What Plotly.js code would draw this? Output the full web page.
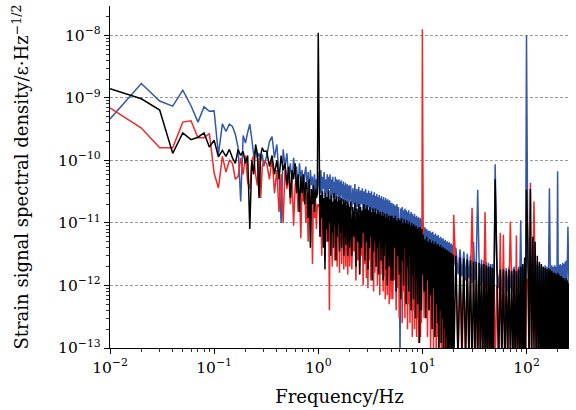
<!DOCTYPE html>
<html>
<head>
<meta charset="utf-8">
<script src="https://cdn.plot.ly/plotly-3.0.1.min.js"></script>
<style>html,body{margin:0;padding:0;background:#fff;}#chart{width:576px;height:410px;}</style>
</head>
<body>
<div id="chart"></div>
<script>
// Frequency samples (Hz)
const freq = [
  0.01,0.02,0.03,0.04,0.05,0.06,0.07,0.08,0.09,0.10,0.11,0.12,0.13,0.14,0.15,0.16,0.17,0.18,0.19,0.20,0.21,0.22,0.23,0.24,0.25,0.26,0.27,0.28,0.29,0.30,
  0.32,0.34,0.36,0.38,0.40,0.42,0.44,0.46,0.48,0.50,0.52,0.54,0.56,0.58,0.60,0.62,0.64,0.66,0.68,0.70,0.72,0.74,0.76,0.78,0.80,0.82,0.84,0.86,0.88,0.90,0.92,0.94,0.96,0.98,1.00,
  1.02,1.04,1.06,1.08,1.10,1.12,1.14,1.16,1.18,1.20,1.22,1.24,1.26,1.28,1.30,1.32,1.34,1.36,1.38,1.40,1.42,1.44,1.46,1.48,1.50,1.52,1.54,1.56,1.58,1.60,1.62,1.64,1.66,1.68,1.70,1.72,1.74,1.76,1.78,1.80,1.82,1.84,1.86,1.88,1.90,1.92,1.94,1.96,1.98,2.00,
  2.05,2.10,2.15,2.20,2.25,2.30,2.35,2.40,2.45,2.50,2.55,2.60,2.65,2.70,2.75,2.80,2.85,2.90,2.95,3.00,3.05,3.10,3.15,3.20,3.25,3.30,3.35,3.40,3.45,3.50,3.55,3.60,3.65,3.70,3.75,3.80,3.85,3.90,3.95,4.00,4.05,4.10,4.15,4.20,4.25,4.30,4.35,4.40,4.45,4.50,4.55,4.60,4.65,4.70,4.75,4.80,4.85,4.90,4.95,5.00,
  5.1,5.2,5.3,5.4,5.5,5.6,5.7,5.8,5.9,6.0,6.1,6.2,6.3,6.4,6.5,6.6,6.7,6.8,6.9,7.0,7.1,7.2,7.3,7.4,7.5,7.6,7.7,7.8,7.9,8.0,8.1,8.2,8.3,8.4,8.5,8.6,8.7,8.8,8.9,9.0,9.1,9.2,9.3,9.4,9.5,9.6,9.7,9.8,9.9,10.0,
  10.2,10.4,10.6,10.8,11.0,11.2,11.4,11.6,11.8,12.0,12.2,12.4,12.6,12.8,13.0,13.2,13.4,13.6,13.8,14.0,14.2,14.4,14.6,14.8,15.0,15.2,15.4,15.6,15.8,16.0,16.2,16.4,16.6,16.8,17.0,17.2,17.4,17.6,17.8,18.0,18.2,18.4,18.6,18.8,19.0,19.2,19.4,19.6,19.8,20.0,
  21,22,23,24,25,26,27,28,29,30,31,32,33,34,35,36,37,38,39,40,41,42,43,44,45,46,47,48,49,50,
  52,54,56,58,60,62,64,66,68,70,72,74,76,78,80,82,84,86,88,90,92,94,96,98,100,
  103,106,109,112,115,118,121,124,127,130,133,136,139,142,145,148,151,154,157,160,163,166,169,172,175,178,181,184,187,190,193,196,199,202,205,208,211,214,217,220,223,226,229,232,235,238,241,244,247,250,253,256
];

// Blue series
const blueASD = [
  4.6e-10,1.7e-9,8.9e-10,7.4e-10,1.33e-9,7.5e-10,4.1e-10,7.2e-10,6.1e-10,6.2e-10,1.24e-10,3.85e-10,2.9e-10,3.8e-10,3.5e-10,2.6e-10,1.6e-10,2.2e-11,2.5e-10,1.9e-10,2.8e-10,3.8e-10,2.2e-10,1.2e-10,1.5e-10,1.1e-10,1.3e-10,1.0e-10,1.25e-10,8e-11,
  1.2e-10,2.0e-10,2.4e-10,1.1e-10,1.8e-10,6e-11,1.0e-11,1.5e-10,8e-11,1.3e-10,5e-11,9e-11,4e-11,1.1e-10,6e-11,8e-11,3e-11,9e-11,5e-11,7e-11,2.5e-11,6e-11,8e-11,3.5e-11,6.5e-11,2.5e-11,7e-11,4e-11,5.5e-11,2.5e-11,6e-11,3.5e-11,5e-11,2.8e-11,4.5e-11,
  6.5e-11,3e-11,7e-11,2.5e-11,5.5e-11,3.5e-11,6.5e-11,2e-11,5e-11,3e-11,
  6e-11,2.5e-11,5.5e-11,3.5e-11,6e-11,2.2e-11,5e-11,2.8e-11,5.5e-11,2.5e-11,
  4.5e-11,3e-11,5.5e-11,2e-11,5e-11,2.8e-11,4.8e-11,2.2e-11,5e-11,2.6e-11,
  4.5e-11,2e-11,4.8e-11,2.8e-11,4.2e-11,2.2e-11,4.6e-11,2.5e-11,4e-11,1.8e-11,
  4.4e-11,2.4e-11,4e-11,2e-11,4.2e-11,2.5e-11,3.8e-11,1.8e-11,4e-11,2.2e-11,
  4e-11,1.6e-11,3.6e-11,2e-11,4.2e-11,1.4e-11,3.5e-11,1.8e-11,3.8e-11,1.5e-11,
  3.3e-11,2e-11,3.6e-11,1.3e-11,3.2e-11,1.7e-11,3.5e-11,1.4e-11,3e-11,1.8e-11,
  3.3e-11,1.2e-11,3e-11,1.6e-11,3.2e-11,1.3e-11,2.8e-11,1.5e-11,3.1e-11,1.1e-11,
  2.7e-11,1.6e-11,2.9e-11,1.2e-11,2.6e-11,1.4e-11,2.8e-11,1e-11,2.5e-11,1.5e-11,
  2.7e-11,1.1e-11,2.4e-11,1.3e-11,2.6e-11,1e-11,2.3e-11,1.4e-11,2.5e-11,9e-12,
  2.3e-11,1.2e-11,2.4e-11,1e-11,2.2e-11,1.3e-11,2.3e-11,9e-12,2.1e-11,1.1e-11,
  2.1e-11,9e-12,2e-11,1.1e-11,1.9e-11,8e-12,2e-11,1e-11,1.8e-11,9e-12,
  5e-14,1.7e-11,1e-11,1.8e-11,8e-12,1.6e-11,9e-12,1.7e-11,7e-12,1.6e-11,
  8.5e-12,1.5e-11,7e-12,1.6e-11,8e-12,1.4e-11,6.5e-12,1.5e-11,8e-12,1.4e-11,
  6e-12,1.3e-11,7.5e-12,1.4e-11,6e-12,1.25e-11,7e-12,1.3e-11,5.5e-12,1.2e-11,
  6.5e-12,1.25e-11,5.5e-12,1.15e-11,6e-12,1.2e-11,5e-12,1.1e-11,6e-12,1.05e-11,
  9.5e-12,4.5e-12,8.5e-12,3.5e-12,8e-12,4e-12,7.5e-12,3e-12,7.5e-12,3.5e-12,
  7e-12,3e-12,7.2e-12,3.5e-12,6.5e-12,2.6e-12,6.8e-12,3.2e-12,6.2e-12,2.8e-12,
  6.4e-12,3e-12,5.8e-12,2.5e-12,6e-12,2.8e-12,5.6e-12,2.4e-12,5.7e-12,2.7e-12,
  5.2e-12,2.3e-12,5.4e-12,2.6e-12,5e-12,2.2e-12,5.1e-12,2.5e-12,4.8e-12,2e-12,
  4.9e-12,2.3e-12,4.6e-12,2e-12,4.7e-12,2.2e-12,4.4e-12,1.9e-12,4.5e-12,2.1e-12,
  4e-12,1.5e-12,3.8e-12,1.4e-12,3.5e-12,1.2e-12,3.2e-12,1.3e-12,3e-12,1.1e-12,5e-12,1.2e-12,2.8e-12,3.4e-11,2.7e-12,1e-12,2.6e-12,1.1e-12,2.5e-12,9e-13,2.4e-12,1e-12,2.3e-12,9e-13,2.2e-12,1e-12,2.2e-12,8e-13,2.1e-12,8.7e-11,
  2e-12,9e-13,2.1e-12,8e-13,2e-12,9e-13,1.9e-12,8e-13,2e-12,9e-13,1.9e-12,8e-13,2e-12,9e-13,1.9e-12,8e-13,2e-12,9e-13,1.1e-11,9e-13,2.1e-12,8e-13,2.4e-12,1e-12,1e-8,
  2.5e-12,1e-12,3e-12,1.2e-12,3.2e-12,1e-12,2.8e-12,9e-13,2.4e-12,1e-12,2.2e-12,8e-13,2.1e-12,9e-13,2e-12,8e-13,2.1e-12,9e-13,2e-12,8e-13,2e-12,3.6e-11,2e-12,8e-13,2.1e-12,9e-13,2e-12,8e-13,2.1e-12,9e-13,2e-12,8e-13,6.7e-11,9e-13,2.1e-12,8e-13,2.2e-12,9e-13,2.1e-12,8e-13,2.3e-12,9e-13,2.2e-12,8e-13,2.4e-12,1e-12,2.5e-12,9e-13,2.6e-12,8.7e-12,2.5e-12,1e-12
];

// Red series
const redASD = [
  6.9e-10,3.3e-10,1.6e-10,1.6e-10,4.1e-10,4.3e-10,2.3e-10,2.3e-10,2.7e-10,6.3e-11,3.6e-11,1.16e-10,6.5e-11,1.0e-10,9e-11,5e-11,5.5e-11,1.1e-10,6e-11,1.2e-10,4.5e-11,3.5e-11,1.0e-10,1.2e-10,6e-11,4e-11,1.1e-10,2.5e-11,8e-11,1.0e-10,
  9e-11,5e-11,1.1e-10,3e-11,7e-11,1.5e-11,6e-11,1.0e-11,8e-11,3.5e-11,6e-11,2e-11,5e-11,9e-12,4e-11,5.5e-11,1.5e-11,3.5e-11,5.7e-12,4e-11,2.2e-11,4.5e-11,1.0e-11,3e-11,5e-12,3.5e-11,1.5e-11,2.8e-11,2.2e-12,3e-11,1.2e-11,2.5e-11,8e-12,2e-11,1.8e-11,
  2e-11,6e-12,1.6e-11,3e-12,1.8e-11,7e-12,1.4e-11,2.5e-12,1.7e-11,5e-12,
  1.5e-11,8e-12,1.2e-11,4e-13,1.5e-11,4e-12,1.3e-11,2e-12,1.4e-11,6e-12,
  1.2e-11,2.5e-12,1.5e-11,4e-12,1.1e-11,2e-12,1.3e-11,5e-12,1.2e-11,1.6e-12,
  1.3e-11,4e-12,1e-11,2.2e-12,1.2e-11,5e-12,1.1e-11,1.8e-12,1.2e-11,3.5e-12,
  1e-11,2e-12,1.1e-11,4.5e-12,9e-12,1.5e-12,1.1e-11,3e-12,9e-12,2e-12,
  1e-11,1.8e-12,8e-12,3.5e-12,1.1e-11,1.2e-12,8.5e-12,2.5e-12,9e-12,1.5e-12,
  7.5e-12,3e-12,9.5e-12,1e-12,8e-12,2.2e-12,8.5e-12,1.3e-12,7e-12,9e-13,
  8e-12,2.5e-12,7.5e-12,1.2e-12,8e-12,2e-12,7e-12,8e-13,7.5e-12,1.6e-12,
  6.5e-12,2.5e-12,7.5e-12,1e-12,7e-12,1.8e-12,6.5e-12,7e-13,7e-12,1.5e-12,
  6e-12,2.2e-12,6.5e-12,8e-13,6e-12,1.4e-12,6.5e-12,6e-13,5.5e-12,1.2e-12,
  6e-12,7e-13,5.5e-12,1.5e-12,6e-12,5e-13,5.5e-12,1e-12,5e-12,6e-13,
  6e-12,6e-13,5.5e-12,1.2e-12,6e-12,4e-13,5e-12,9e-13,5.5e-12,3e-13,
  5e-12,7e-13,5.5e-12,2.5e-13,4.5e-12,8e-13,5e-12,3e-13,4.5e-12,6e-13,
  5e-12,2e-13,4.5e-12,5e-13,4e-12,2.5e-13,4.5e-12,6e-13,4e-12,1.5e-13,
  4.2e-12,4e-13,3.8e-12,2e-13,4e-12,5e-13,3.5e-12,1.5e-13,3.8e-12,3e-13,
  3.5e-12,1.2e-13,4e-12,3.5e-13,3.3e-12,1.5e-13,3.6e-12,2.5e-13,3.2e-12,1.25e-8,
  3.5e-12,3e-13,3.2e-12,6e-13,3e-12,1.5e-13,2.9e-12,4e-13,2.8e-12,1e-13,
  2.7e-12,3e-13,2.6e-12,8e-14,2.6e-12,2e-13,2.4e-12,6e-14,2.5e-12,1.5e-13,
  2.3e-12,5e-14,2.4e-12,1.2e-13,2.2e-12,5e-14,2.3e-12,9e-14,2.1e-12,5e-14,
  2.2e-12,1e-13,2e-12,5e-14,2.1e-12,8e-14,1.9e-12,5e-14,2e-12,7e-14,
  1.9e-12,5e-14,1.8e-12,8e-14,1.9e-12,5e-14,1.7e-12,6e-14,1.8e-12,1.35e-11,
  1.6e-12,8e-14,1.5e-12,5e-14,1.4e-12,1e-13,1.4e-12,6e-14,1.3e-12,1.75e-11,1.3e-12,5e-14,1.2e-12,7e-14,1.2e-12,5e-14,1.2e-12,8e-14,1.1e-12,1.5e-11,1.1e-12,5e-14,1.1e-12,6e-14,1e-12,5e-14,1e-12,7e-14,1e-12,5e-14,
  1e-12,6e-14,7e-12,5e-14,6.5e-12,7e-14,1e-12,5e-14,1e-12,1.05e-11,1e-12,6e-14,1e-12,5e-14,6.3e-12,6e-14,1e-12,5e-14,1e-12,7e-14,1.1e-12,5e-14,1.2e-12,6e-14,1.3e-12,
  1.2e-12,5e-14,4.4e-11,7e-14,1.3e-12,2.2e-11,1.2e-12,5e-14,1.1e-12,6e-14,1e-12,5e-14,1e-12,7e-14,1e-12,5e-14,1e-12,6e-14,9e-13,5e-14,1e-12,7e-14,9e-13,5e-14,1e-12,6e-14,9e-13,5e-14,9e-13,7e-14,9e-13,5e-14,1e-12,6e-14,9e-13,5e-14,9e-13,7e-14,9e-13,5e-14,1e-12,6e-14,9e-13,5e-14,1e-12,7e-14,9e-13,5e-14,1e-12,6e-14,9e-13,5e-14
];

// Black series
const blackASD = [
  1.4e-9,9.7e-10,6.4e-10,1.3e-10,2.75e-10,2.15e-10,2.35e-10,2.75e-10,1.64e-10,2.1e-10,1.14e-10,1.45e-10,1.16e-10,1.5e-10,1.1e-10,9e-11,1.5e-10,1.2e-10,1.4e-10,9e-11,1.2e-10,8e-12,1.0e-10,6e-11,1.8e-10,1.3e-10,2.5e-11,1.2e-10,1.6e-10,1.4e-10,
  1.4e-10,8e-11,1.2e-10,6e-11,1.0e-10,5e-11,1.2e-10,7e-11,9e-11,4e-11,8e-11,2.5e-11,7e-11,5e-11,9e-11,3e-11,6e-11,1.5e-11,5.5e-11,3e-11,6e-11,2e-11,4.5e-11,3.5e-11,1.2e-11,5e-11,4e-12,3.5e-11,2e-11,4e-11,1.5e-11,3.5e-11,2.5e-11,3e-11,1.1e-8,
  3.5e-11,6e-12,2.8e-11,1.2e-11,3.2e-11,4e-12,2.5e-11,1.8e-12,3e-11,8e-12,
  2.6e-11,5e-12,3.3e-11,1e-11,2.4e-11,3e-12,2.8e-11,7e-12,2.2e-11,4e-12,
  3e-11,9e-12,2.4e-11,2.5e-12,2.7e-11,6e-12,2.2e-11,1e-11,2.6e-11,3.5e-12,
  2.3e-11,7e-12,2.5e-11,4e-12,2e-11,8e-12,2.4e-11,3e-12,2.1e-11,6e-12,
  2.3e-11,4.5e-12,1.9e-11,8e-12,2.2e-11,3e-12,2e-11,6e-12,1.8e-11,4e-12,
  2.2e-11,3e-12,1.8e-11,6e-12,2.1e-11,2e-12,1.7e-11,5e-12,2e-11,1.5e-12,
  1.8e-11,4e-12,1.6e-11,7e-12,2e-11,2.5e-12,1.7e-11,5e-12,1.9e-11,1.8e-12,
  1.6e-11,4e-12,1.8e-11,6e-12,1.5e-11,1.2e-12,1.7e-11,3.5e-12,1.5e-11,5e-12,
  1.7e-11,2e-12,1.4e-11,4e-12,1.6e-11,1.5e-12,1.4e-11,5e-12,1.5e-11,2.5e-12,
  1.3e-11,4e-12,1.5e-11,1.2e-12,1.3e-11,3e-12,1.4e-11,5e-12,1.2e-11,1.8e-12,
  1.4e-11,1e-12,1.2e-11,3e-12,1.3e-11,2e-12,1.1e-11,4e-12,1.3e-11,1.2e-12,
  1.3e-11,1.2e-12,1.2e-11,4e-12,1.3e-11,8e-13,1.1e-11,3e-12,1.2e-11,1.5e-12,
  1.1e-11,6e-13,1.2e-11,2.5e-12,1e-11,1e-12,1.15e-11,4e-12,1e-11,5e-13,
  1.1e-11,2e-12,9.5e-12,8e-13,1.05e-11,3e-12,9e-12,4e-13,1e-11,1.5e-12,
  9e-12,6e-13,9.5e-12,2.5e-12,8.5e-12,3e-13,9e-12,1.2e-12,8e-12,5e-13,
  8.5e-12,2e-12,8e-12,1.2e-13,8.5e-12,9e-13,7.5e-12,4e-13,8e-12,1.5e-12,
  6.5e-12,8e-13,5.5e-12,3e-13,6e-12,1.2e-12,5e-12,4e-13,5.5e-12,7e-13,
  4.8e-12,2e-13,5.2e-12,9e-13,4.6e-12,1.5e-13,5e-12,5e-13,4.4e-12,2.5e-13,
  4.6e-12,8e-14,4.2e-12,4e-13,4.4e-12,1.2e-13,4e-12,3e-13,4.1e-12,7e-14,
  3.8e-12,2e-13,3.9e-12,6e-14,3.6e-12,1.5e-13,3.7e-12,5e-14,3.4e-12,1e-13,
  3.5e-12,6e-14,3.3e-12,1.2e-13,3.3e-12,5e-14,3.1e-12,9e-14,3.1e-12,5e-14,
  3e-12,6e-14,2.8e-12,1e-13,2.7e-12,5e-14,2.6e-12,8e-14,2.5e-12,4e-14,2.4e-12,7e-14,2.4e-12,5e-14,2.3e-12,9e-14,2.2e-12,4e-14,2.2e-12,6e-14,2.1e-12,5e-14,2e-12,8e-14,2e-12,4e-14,1.9e-12,6e-14,1.9e-12,5e-11,
  1.9e-12,5e-14,1.8e-12,7e-14,1.8e-12,4e-14,1.7e-12,8e-14,1.8e-12,5e-14,1.7e-12,6e-14,1.8e-12,4e-14,1.7e-12,7e-14,1.8e-12,5e-14,2e-12,6e-14,2.2e-12,5e-14,2.8e-12,7e-14,3.4e-11,
  5e-12,6e-14,3.5e-11,5e-14,6e-12,8e-14,5e-12,5e-14,3e-12,7e-14,2.4e-12,4e-14,2.2e-12,6e-14,2e-12,5e-14,1.9e-12,8e-14,1.8e-12,4e-14,1.9e-12,6e-14,1.8e-12,5e-14,1.7e-12,7e-14,1.6e-12,4e-14,1.6e-12,6e-14,1.5e-12,5e-14,1.6e-12,8e-14,1.5e-12,4e-14,1.4e-12,6e-14,1.4e-12,5e-14,1.3e-12,7e-14,1.3e-12,4e-14,1.2e-12,6e-14,1.3e-12,5e-14,1.2e-12,8e-14,1.1e-12,5e-14
];

// Axis ticks
const xTickVals = [0.01, 0.1, 1, 10, 100];
const xTickText = ['10<sup>−2</sup>','10<sup>−1</sup>','10<sup>0</sup>','10<sup>1</sup>','10<sup>2</sup>'];
const yTickVals = [1e-13, 1e-12, 1e-11, 1e-10, 1e-9, 1e-8];
const yTickText = ['10<sup>−13</sup>','10<sup>−12</sup>','10<sup>−11</sup>','10<sup>−10</sup>','10<sup>−9</sup>','10<sup>−8</sup>'];

console.log('lengths', freq.length, blueASD.length, redASD.length, blackASD.length);

function minorLog(lo, hi) {
  const out = [];
  for (let e = lo; e <= hi; e++) for (let m = 2; m <= 9; m++) out.push(m * Math.pow(10, e));
  return out;
}

const FONT = 'DejaVu Serif, serif';
const mk = (y, color) => ({x: freq, y: y, type: 'scatter', mode: 'lines',
  line: {color: color, width: 1.5}, hoverinfo: 'skip', showlegend: false});

const data = [mk(blueASD, '#3358a8'), mk(redASD, '#ec2a2a'), mk(blackASD, '#000000')];

const layout = {
  width: 576, height: 410,
  margin: {l: 110, r: 7, t: 6, b: 62},
  paper_bgcolor: '#fff', plot_bgcolor: '#fff',
  font: {family: FONT, color: '#000', size: 15},
  showlegend: false,
  xaxis: {
    type: 'log', range: [-2, Math.log10(256)],
    tickmode: 'array', tickvals: xTickVals, ticktext: xTickText,
    ticks: 'outside', ticklen: 5, tickwidth: 1, tickcolor: '#000',
    showline: true, linecolor: '#000', linewidth: 1.2, mirror: false,
    showgrid: false, zeroline: false,
    tickfont: {family: FONT, size: 15.5},
    minor: {tickmode: 'array', tickvals: minorLog(-2, 2), ticks: 'outside', ticklen: 3, tickcolor: '#000', tickwidth: 0.8, showgrid: false},
    title: {text: 'Frequency/Hz', font: {family: FONT, size: 18}, standoff: 14},
    automargin: false
  },
  yaxis: {
    type: 'log', range: [-13, -7.53],
    tickmode: 'array', tickvals: yTickVals, ticktext: yTickText,
    ticks: 'outside', ticklen: 5, tickwidth: 1, tickcolor: '#000',
    showline: true, linecolor: '#000', linewidth: 1.2, mirror: false,
    showgrid: true, gridcolor: '#9a9a9a', gridwidth: 1, griddash: '3px,2px',
    zeroline: false,
    tickfont: {family: FONT, size: 15.5},
    minor: {tickmode: 'array', tickvals: minorLog(-13, -8), ticks: 'outside', ticklen: 3, tickcolor: '#000', tickwidth: 0.8, showgrid: false},
    title: {text: 'Strain signal spectral density/ε·Hz<sup>−1/2</sup>', font: {family: FONT, size: 18}, standoff: 24},
    automargin: false
  }
};

Plotly.newPlot('chart', data, layout, {staticPlot: true, displayModeBar: false});
</script>
</body>
</html>
